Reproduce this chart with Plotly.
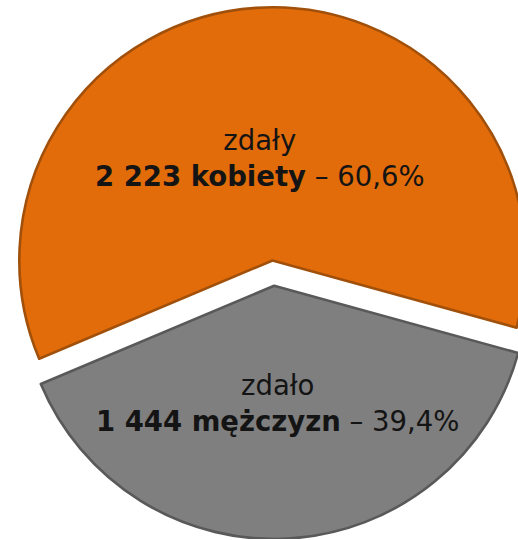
import plotly.graph_objects as go

# Exam results split by sex
labels = ["zdało", "zdały"]
groups = ["mężczyzn", "kobiety"]
values = [1444, 2223]

colors = ["#7F7F7F", "#E36C0A"]
edge_colors = ["#595959", "#A0500A"]
pulls = [0.1, 0.0]

total = sum(values)


def fmt_int(n):
    return f"{n:,}".replace(",", " ")


def fmt_pct(v):
    return f"{100 * v / total:.1f}".replace(".", ",") + "%"


# Figure is larger than the page; the div is shifted so the pie bleeds off the right edge
W = H = 557
SHIFT_X, SHIFT_Y = -6, -18


def paper(px, py):
    return (px - SHIFT_X) / W, 1 - (py - SHIFT_Y) / H


fig = go.Figure(
    go.Pie(
        values=values,
        labels=labels,
        sort=False,
        direction="clockwise",
        rotation=105.4,
        pull=pulls,
        marker=dict(colors=colors, line=dict(color=edge_colors, width=2.6)),
        textinfo="none",
        hoverinfo="label+value+percent",
        showlegend=False,
        domain=dict(x=[0, 1], y=[0, 1]),
    )
)

label_pos = [(277, 403), (259.5, 158)]
annotations = []
for lab, grp, val, (px, py) in zip(labels, groups, values, label_pos):
    x, y = paper(px, py)
    annotations.append(
        dict(
            x=x,
            y=y,
            xref="paper",
            yref="paper",
            xanchor="center",
            yanchor="middle",
            showarrow=False,
            align="center",
            text=f"{lab}<br><b>{fmt_int(val)} {grp}</b> – {fmt_pct(val)}",
            font=dict(family="DejaVu Sans", size=27.5, color="#141414"),
        )
    )

fig.update_layout(
    width=W,
    height=H,
    margin=dict(l=0, r=0, t=0, b=0),
    paper_bgcolor="white",
    plot_bgcolor="white",
    annotations=annotations,
)

post = (
    "var gd=document.getElementById('{plot_id}');"
    "document.documentElement.style.overflow='hidden';"
    "document.body.style.overflow='hidden';"
    "document.body.style.margin='0';"
    f"gd.style.position='absolute';gd.style.left='{SHIFT_X}px';gd.style.top='{SHIFT_Y}px';"
)

fig.write_html("out.html", config={"displayModeBar": False}, post_script=post)
